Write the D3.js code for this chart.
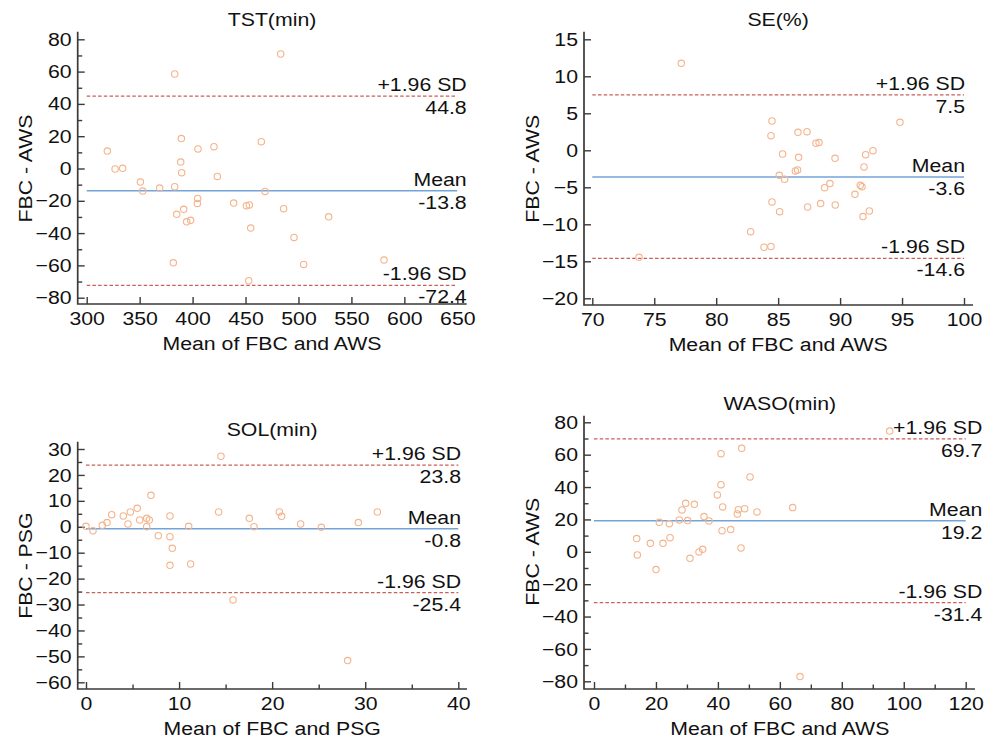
<!DOCTYPE html>
<html>
<head>
<meta charset="utf-8">
<script src="https://cdn.jsdelivr.net/npm/d3@7"></script>
<style>
  body { margin: 0; background: #fff; }
  svg text { font-family: "Liberation Sans", Arial, sans-serif; fill: #111; }
</style>
</head>
<body>
<div id="chart"></div>
<script>
// datos de cada panel (Bland-Altman)
const tstX = [483.2, 383.1, 319.5, 326.8, 334.0, 350.7, 352.9, 368.9, 383.1, 389.4, 388.8, 389.7,
  405.1, 420.2, 423.4, 464.9, 468.4, 404.8, 404.5, 438.8, 450.8, 453.6, 385.0, 391.6, 394.4,
  398.2, 486.0, 454.9, 528.5, 495.8, 381.8, 504.9, 580.8, 453.0];
const tstY = [70.9, 58.5, 10.8, -0.3, 0.1, -8.4, -14.0, -12.1, -11.3, 18.5, 4.0, -2.6,
  12.1, 13.5, -4.9, 16.6, -14.2, -18.5, -21.6, -21.4, -23.0, -22.6, -28.4, -25.3, -33.0,
  -32.1, -24.9, -36.9, -29.9, -42.7, -58.4, -59.4, -56.7, -69.5];

const seX = [77.18, 73.77, 84.5, 84.42, 94.83, 86.6, 87.33, 88.05, 88.3, 85.36, 86.65, 89.59,
  92.06, 92.65, 91.93, 86.39, 86.57, 85.09, 85.52, 89.18, 88.75, 91.63, 91.77, 91.2, 84.5,
  88.43, 89.61, 87.38, 85.12, 92.36, 91.85, 82.78, 83.86, 84.42];
const seY = [11.76, -14.46, 3.96, 1.98, 3.78, 2.43, 2.52, 0.95, 1.04, -0.5, -0.95, -1.08,
  -0.59, -0.05, -2.25, -2.79, -2.66, -3.38, -3.92, -4.5, -5.05, -4.73, -4.91, -5.95, -6.98,
  -7.2, -7.39, -7.66, -8.29, -8.2, -8.96, -11.0, -13.1, -13.0];

const solX = [14.5, 0.0, 0.75, 1.75, 2.26, 2.76, 4.01, 4.51, 4.76, 5.51, 5.77, 6.52, 6.8,
  6.52, 6.98, 7.77, 9.02, 9.02, 9.27, 9.02, 11.03, 11.24, 14.25, 15.79, 17.55, 18.05,
  20.77, 21.02, 23.06, 25.28, 28.11, 29.26, 31.3];
const solY = [27.2, 0.17, -1.5, 0.56, 1.6, 4.67, 4.16, 1.07, 5.7, 7.11, 2.61, 3.26, 2.61,
  0.04, 12.13, -3.43, 4.16, -3.81, -8.31, -14.87, 0.17, -14.36, 5.7, -28.24, 3.26, 0.04,
  5.7, 4.03, 1.07, -0.21, -51.6, 1.6, 5.7];

const wasoX = [95.46, 47.68, 41.0, 50.37, 41.0, 39.82, 29.6, 32.39, 28.41, 41.54, 46.6, 46.28,
  48.64, 52.63, 64.14, 27.55, 30.24, 35.51, 37.13, 21.09, 24.32, 13.78, 18.19, 22.28, 24.54,
  41.33, 44.12, 13.99, 30.99, 33.9, 35.08, 47.46, 20.02, 66.51];
const wasoY = [74.6, 63.94, 60.64, 46.23, 41.49, 35.11, 29.96, 29.34, 25.84, 27.7, 26.05, 23.37,
  26.67, 24.61, 27.29, 19.67, 19.26, 21.73, 19.05, 18.22, 17.4, 8.14, 5.25, 5.25, 8.75,
  13.08, 13.7, -1.95, -4.0, -0.1, 1.55, 2.37, -11.0, -77.1];

// límites: +1.96 SD, media, -1.96 SD
const tstLimits = [44.8, -13.8, -72.4];
const seLimits = [7.5, -3.6, -14.6];
const solLimits = [23.8, -0.8, -25.4];
const wasoLimits = [69.7, 19.2, -31.4];

const titles = ["TST(min)", "SE(%)", "SOL(min)", "WASO(min)"];
const xTitles = ["Mean of FBC and AWS", "Mean of FBC and AWS", "Mean of FBC and PSG", "Mean of FBC and AWS"];
const yTitles = ["FBC - AWS", "FBC - AWS", "FBC - PSG", "FBC - AWS"];
const limitNames = ["+1.96 SD", "Mean", "-1.96 SD"];

// marcas de los ejes
const tstXTicks = [300, 350, 400, 450, 500, 550, 600, 650];
const tstYTicks = [80, 60, 40, 20, 0, -20, -40, -60, -80];
const tstYMinor = [70, 50, 30, 10, -10, -30, -50, -70];
const seXTicks = [70, 75, 80, 85, 90, 95, 100];
const seYTicks = [15, 10, 5, 0, -5, -10, -15, -20];
const solXTicks = [0, 10, 20, 30, 40];
const solXMinor = [5, 15, 25, 35];
const solYTicks = [30, 20, 10, 0, -10, -20, -30, -40, -50, -60];
const solYMinor = [25, 15, 5, -5, -15, -25, -35, -45, -55];
const wasoXTicks = [0, 20, 40, 60, 80, 100, 120];
const wasoXMinor = [10, 30, 50, 70, 90, 110];
const wasoYTicks = [80, 60, 40, 20, 0, -20, -40, -60, -80];
const wasoYMinor = [70, 50, 30, 10, -10, -30, -50, -70];

const width = 998, height = 738;
const fontSize = 19;
const stretchX = 1.12; // el texto original es algo más ancho que Arial

const panels = [
  { xs: tstX, ys: tstY, lim: tstLimits, xDom: [300, 650], yDom: [-80, 80],
    xr: [86.7, 457.3], yr: [297.7, 39.3], axX: 77.7, axY: 304, axTop: 31.7, axRight: 466.7, labR: 466.7,
    xT: tstXTicks, xM: [], yT: tstYTicks, yM: tstYMinor },
  { xs: seX, ys: seY, lim: seLimits, xDom: [70, 100], yDom: [-20, 15],
    xr: [592.3, 964], yr: [298.3, 39.3], axX: 584, axY: 305, axTop: 31.7, axRight: 973, labR: 965,
    xT: seXTicks, xM: [], yT: seYTicks, yM: [] },
  { xs: solX, ys: solY, lim: solLimits, xDom: [0, 40], yDom: [-60, 30],
    xr: [86, 458.3], yr: [682.3, 449], axX: 77.7, axY: 689, axTop: 441.7, axRight: 467, labR: 461,
    xT: solXTicks, xM: solXMinor, yT: solYTicks, yM: solYMinor },
  { xs: wasoX, ys: wasoY, lim: wasoLimits, xDom: [0, 120], yDom: [-80, 80],
    xr: [594, 965.7], yr: [681.3, 422.3], axX: 584, axY: 689, axTop: 415.7, axRight: 975, labR: 982.3,
    xT: wasoXTicks, xM: wasoXMinor, yT: wasoYTicks, yM: wasoYMinor }
];

const svg = d3.select("#chart").append("svg")
  .attr("width", width)
  .attr("height", height);

// texto ensanchado horizontalmente alrededor de su punto de anclaje
function addText(g, x, y, txt, anchor, rot) {
  return g.append("text")
    .attr("transform", `translate(${x},${y})` + (rot ? ` rotate(${rot})` : "") + ` scale(${stretchX},1)`)
    .attr("text-anchor", anchor)
    .style("font-size", fontSize + "px")
    .text(txt);
}

panels.forEach(function(p, i) {
  const x = d3.scaleLinear().domain(p.xDom).range(p.xr);
  const y = d3.scaleLinear().domain(p.yDom).range(p.yr);
  const g = svg.append("g");

  // título
  addText(g, (p.xr[0] + p.xr[1]) / 2, p.axTop - 6, titles[i], "middle");

  // eje Y
  const yAxis = g.append("g").attr("transform", `translate(${p.axX},0)`);
  yAxis.call(d3.axisLeft(y).tickValues(p.yT).tickSize(-7).tickPadding(6).tickFormat(d3.format("d")));
  yAxis.append("g").call(d3.axisLeft(y).tickValues(p.yM).tickSize(-4.5).tickFormat(""));

  // eje X
  const xAxis = g.append("g").attr("transform", `translate(0,${p.axY})`);
  xAxis.call(d3.axisBottom(x).tickValues(p.xT).tickSize(-7).tickPadding(7.5).tickFormat(d3.format("d")));
  xAxis.append("g").call(d3.axisBottom(x).tickValues(p.xM).tickSize(-4.5).tickFormat(""));

  g.selectAll(".domain").remove();
  g.selectAll(".tick line").attr("stroke", "#3a3a3a").attr("stroke-width", 1.4);
  g.selectAll(".tick text").each(function() {
    const t = d3.select(this);
    const tx = +t.attr("x") || 0, ty = +t.attr("y") || 0;
    t.attr("x", null).attr("y", null)
      .attr("transform", `translate(${tx},${ty}) scale(${stretchX},1)`)
      .style("font-size", fontSize + "px")
      .style("font-family", "'Liberation Sans', Arial, sans-serif")
      .attr("fill", "#111");
  });

  // líneas de los ejes
  g.append("path")
    .attr("d", `M${p.axX},${p.axTop}V${p.axY}H${p.axRight}`)
    .attr("fill", "none")
    .attr("stroke", "#3a3a3a")
    .attr("stroke-width", 1.7);

  // títulos de los ejes
  addText(g, (p.xr[0] + p.xr[1]) / 2, p.axY + 46, xTitles[i], "middle");
  addText(g, p.axX - 45.5, (p.yr[0] + p.yr[1]) / 2, yTitles[i], "middle", -90);

  // líneas de media y límites
  p.lim.forEach(function(v, k) {
    g.append("line")
      .attr("x1", p.xr[0]).attr("x2", p.xr[1])
      .attr("y1", y(v)).attr("y2", y(v))
      .attr("stroke", k === 1 ? "#74a3d8" : "#c85f5a")
      .attr("stroke-width", k === 1 ? 1.5 : 1.2)
      .attr("stroke-dasharray", k === 1 ? null : "3.5,2.2");

    addText(g, p.labR, y(v) - 5, limitNames[k], "end");
    addText(g, p.labR, y(v) + 18, v.toFixed(1), "end");
  });

  // puntos
  g.append("g")
    .selectAll("circle")
    .data(p.xs.map((d, j) => [d, p.ys[j]]))
    .enter().append("circle")
    .attr("cx", d => x(d[0]))
    .attr("cy", d => y(d[1]))
    .attr("r", 3.2)
    .attr("fill", "none")
    .attr("stroke", "#f4b48c")
    .attr("stroke-width", 1.1);
});
</script>
</body>
</html>
